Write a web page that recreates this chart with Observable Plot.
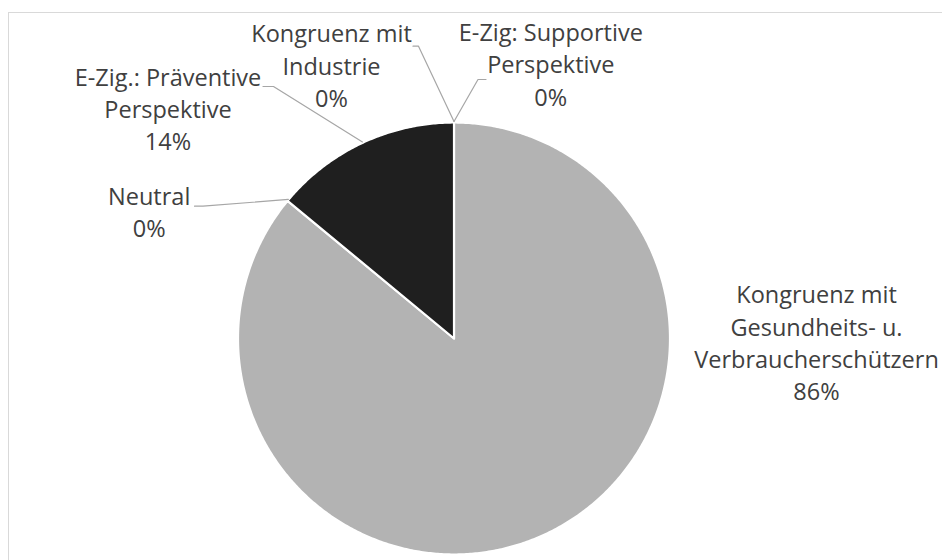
<!DOCTYPE html>
<html>
<head>
<meta charset="utf-8">
<script src="https://cdn.jsdelivr.net/npm/d3@7"></script>
<script src="https://cdn.jsdelivr.net/npm/@observablehq/plot@0.6"></script>
<style>
  html, body { margin: 0; padding: 0; background: #ffffff; overflow: hidden; }
  #wrap { position: relative; width: 942px; height: 560px; }
  #border {
    position: absolute; left: 8px; top: 12px; width: 1000px; height: 1000px;
    border-left: 1.5px solid #d9d9d9; border-top: 1.5px solid #d9d9d9;
    pointer-events: none;
  }
</style>
</head>
<body>
<div id="wrap"><div id="border"></div></div>
<script>
// Slice categories in drawing order (clockwise from 12 o'clock)
const categories = [
  "Kongruenz mit Gesundheits- u. Verbraucherschützern",
  "Neutral",
  "E-Zig.: Präventive Perspektive",
  "Kongruenz mit Industrie",
  "E-Zig: Supportive Perspektive"
];
// Share of each category in percent
const shares = [86, 0, 14, 0, 0];
// Label text lines for each category
const labelLines = [
  ["Kongruenz mit", "Gesundheits- u.", "Verbraucherschützern"],
  ["Neutral"],
  ["E-Zig.: Präventive", "Perspektive"],
  ["Kongruenz mit", "Industrie"],
  ["E-Zig: Supportive", "Perspektive"]
];
const sliceColors = ["#b3b3b3", "#b3b3b3", "#1f1f1f", "#b3b3b3", "#b3b3b3"];

// Geometry (pixels): pie centre and radius
const W = 942, H = 560;
const CX = 453.5, CY = 338, R = 216;
const LINE = 32.4, FONT = 23.5;

// Label placement relative to the pie centre: x of the text centre, first baseline
// (measured upward), and the leader line's attach point plus elbow x.
const labelLayout = [
  {cx: 362.5, top: 35.3, leader: null},
  {cx: -304.8, top: 134, leader: {x: -259.5, y: 132.3, ex: -251}},
  {cx: -286, top: 253, leader: {x: -191, y: 252, ex: -180.5}},
  {cx: -122.5, top: 296.3, leader: {x: -41, y: 292.3, ex: -35.5}},
  {cx: 96.8, top: 297.5, leader: {x: 32, y: 259, ex: 24}}
];

const total = d3.sum(shares);
const deg = a => a * Math.PI / 180;
let acc = 0;
const slices = categories.map((name, i) => {
  const a0 = acc / total * 360;
  acc += shares[i];
  const a1 = acc / total * 360;
  return {name, value: shares[i], a0, a1, mid: (a0 + a1) / 2, color: sliceColors[i], i};
});

// Slice outlines: centre -> arc -> centre
const polyPoints = [];
for (const s of slices) {
  if (s.value <= 0) continue;
  const n = Math.max(2, Math.ceil((s.a1 - s.a0) / 0.5));
  polyPoints.push({name: s.name, x: 0, y: 0, color: s.color});
  for (let k = 0; k <= n; k++) {
    const a = deg(s.a0 + (s.a1 - s.a0) * k / n);
    polyPoints.push({name: s.name, x: R * Math.sin(a), y: R * Math.cos(a), color: s.color});
  }
  polyPoints.push({name: s.name, x: 0, y: 0, color: s.color});
}

// Leader lines: label attach -> elbow -> slice midpoint on the rim
const leaderPoints = [];
slices.forEach((s, i) => {
  const L = labelLayout[i].leader;
  if (!L) return;
  const a = deg(s.mid);
  leaderPoints.push({name: s.name, x: L.x, y: L.y});
  leaderPoints.push({name: s.name, x: L.ex, y: L.y});
  leaderPoints.push({name: s.name, x: (R - 1) * Math.sin(a), y: (R - 1) * Math.cos(a) + 2});
});

// Label text (name lines + percentage), anchored at the last baseline
const labels = slices.map((s, i) => {
  const lines = [...labelLines[i], `${s.value}%`];
  const L = labelLayout[i];
  return {text: lines.join("\n"), x: L.cx, y: L.top - (lines.length - 1) * LINE};
});

const chart = Plot.plot({
  width: W,
  height: H,
  margin: 0,
  style: {background: "transparent", fontFamily: "'Open Sans', sans-serif"},
  x: {domain: [-CX, W - CX], range: [0, W], axis: null},
  y: {domain: [CY - H, CY], range: [H, 0], axis: null},
  marks: [
    Plot.line(polyPoints, {
      x: "x", y: "y", z: "name",
      fill: d => d.color, stroke: "#ffffff", strokeWidth: 2.2, strokeLinejoin: "round"
    }),
    Plot.line(leaderPoints, {
      x: "x", y: "y", z: "name", stroke: "#a6a6a6", strokeWidth: 1.2
    }),
    Plot.text(labels, {
      x: "x", y: "y", text: "text",
      textAnchor: "middle", lineAnchor: "bottom",
      lineHeight: LINE / FONT, fontSize: FONT, fill: "#404040"
    })
  ]
});

document.getElementById("wrap").prepend(chart);
</script>
</body>
</html>
